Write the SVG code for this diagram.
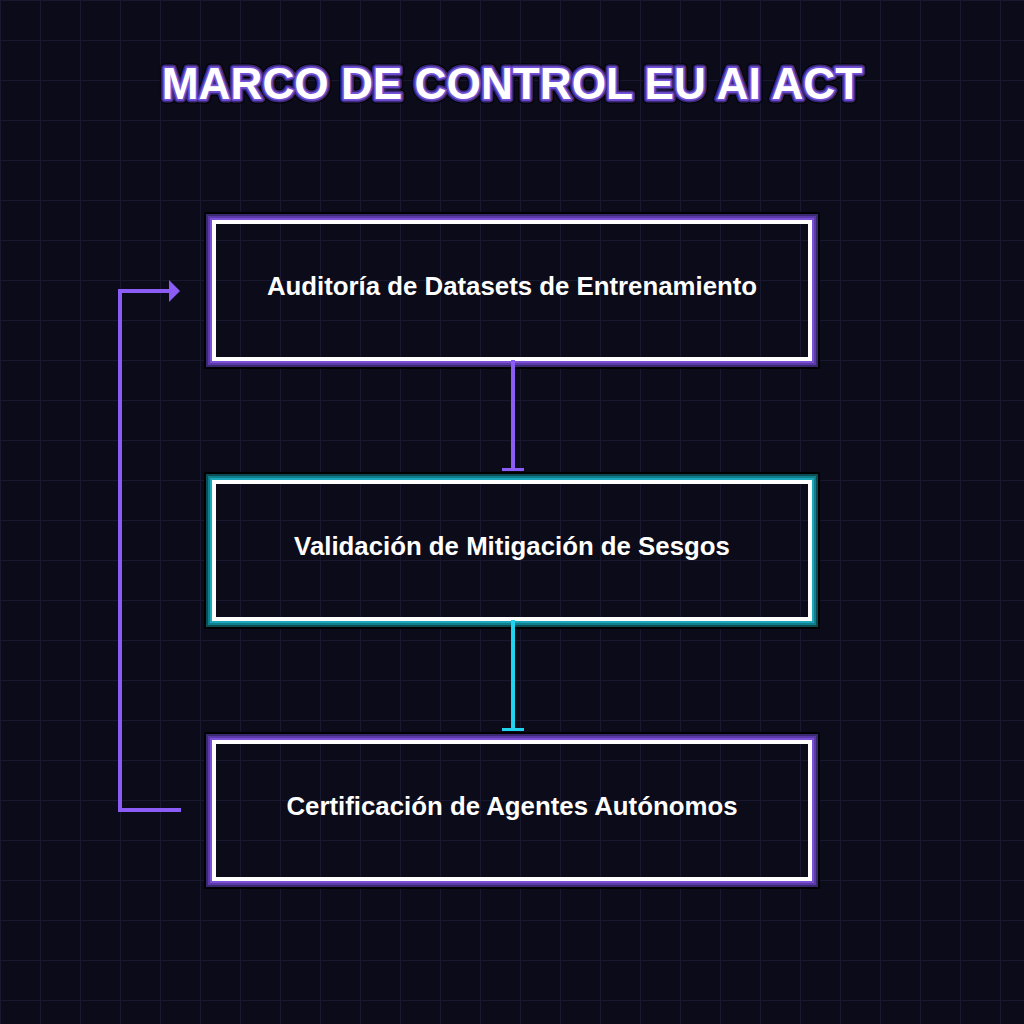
<svg xmlns="http://www.w3.org/2000/svg" width="1024" height="1024" viewBox="0 0 1024 1024">
  <defs>
    <pattern id="grid" width="40" height="40" patternUnits="userSpaceOnUse">
      <path d="M0.5 0 V40 M0 0.5 H40" fill="none" stroke="#181830" stroke-width="1"/>
    </pattern>
    <marker id="tee-p" viewBox="0 0 4 22" refX="2" refY="11" markerWidth="4" markerHeight="22" markerUnits="userSpaceOnUse" orient="auto">
      <rect x="0" y="0" width="3" height="22" fill="#8b5cf6"/>
    </marker>
    <marker id="tee-c" viewBox="0 0 4 22" refX="2" refY="11" markerWidth="4" markerHeight="22" markerUnits="userSpaceOnUse" orient="auto">
      <rect x="0" y="0" width="3" height="22" fill="#22d3ee"/>
    </marker>
    <marker id="arrow-p" viewBox="0 0 11 22" refX="2" refY="11" markerWidth="11" markerHeight="22" markerUnits="userSpaceOnUse" orient="auto">
      <path d="M0 0 L11 11 L0 22 Z" fill="#8b5cf6"/>
    </marker>
  </defs>
  <style>
    .title { font-family: "Liberation Sans", Arial, sans-serif; font-weight: bold; font-size: 44.2px; text-anchor: middle; stroke-linejoin: round; }
    .label { font-family: "Liberation Sans", Arial, sans-serif; font-weight: bold; font-size: 25.8px; fill: #ffffff; text-anchor: middle; }
    .frame { fill: none; stroke: #ffffff; stroke-width: 4; }
    .b0 { fill: none; stroke: #000000; stroke-width: 3; }
    .p1 { fill: none; stroke: #7c4fd6; stroke-width: 2; }
    .p2 { fill: none; stroke: #5a3aa6; stroke-width: 2; }
    .p3 { fill: none; stroke: #3a2872; stroke-width: 2; }
    .c1 { fill: none; stroke: #1aa7bb; stroke-width: 2; }
    .c2 { fill: none; stroke: #117e8c; stroke-width: 2; }
    .c3 { fill: none; stroke: #0a4d55; stroke-width: 2; }
    .conn { fill: none; stroke-width: 4; }
  </style>
  <rect width="1024" height="1024" fill="#0b0b19"/>
  <rect width="1024" height="1024" fill="url(#grid)"/>

  <g id="title">
    <text class="title" x="512" y="99" stroke="#000000" stroke-width="9" fill="#000000">MARCO DE CONTROL EU AI ACT</text>
    <text class="title" x="512" y="99" stroke="#3b2a7a" stroke-width="7" fill="#3b2a7a">MARCO DE CONTROL EU AI ACT</text>
    <text class="title" x="512" y="99" stroke="#7552d8" stroke-width="3.5" fill="#7552d8">MARCO DE CONTROL EU AI ACT</text>
    <text class="title" x="512" y="99" fill="#ffffff">MARCO DE CONTROL EU AI ACT</text>
  </g>

  <g id="node-auditoria">
    <rect class="b0" x="205.5" y="213.5" width="613" height="154"/>
    <rect class="p3" x="207" y="215" width="610" height="151"/>
    <rect class="p2" x="209" y="217" width="606" height="147"/>
    <rect class="p1" x="211" y="219" width="602" height="143"/>
    <rect class="frame" x="214" y="222" width="596" height="137"/>
    <text class="label" x="512" y="295">Auditoría de Datasets de Entrenamiento</text>
  </g>

  <g id="node-validacion">
    <rect class="b0" x="205.5" y="473.5" width="613" height="154"/>
    <rect class="c3" x="207" y="475" width="610" height="151"/>
    <rect class="c2" x="209" y="477" width="606" height="147"/>
    <rect class="c1" x="211" y="479" width="602" height="143"/>
    <rect class="frame" x="214" y="482" width="596" height="137"/>
    <text class="label" x="512" y="555">Validación de Mitigación de Sesgos</text>
  </g>

  <g id="node-certificacion">
    <rect class="b0" x="205.5" y="733.5" width="613" height="154"/>
    <rect class="p3" x="207" y="735" width="610" height="151"/>
    <rect class="p2" x="209" y="737" width="606" height="147"/>
    <rect class="p1" x="211" y="739" width="602" height="143"/>
    <rect class="frame" x="214" y="742" width="596" height="137"/>
    <text class="label" x="512" y="815">Certificación de Agentes Autónomos</text>
  </g>

  <g id="connectors">
    <line class="conn" x1="513" y1="360" x2="513" y2="470" stroke="#8b5cf6" marker-end="url(#tee-p)"/>
    <line class="conn" x1="513" y1="620" x2="513" y2="730" stroke="#22d3ee" marker-end="url(#tee-c)"/>
    <path class="conn" d="M181 810 H120 V291 H171" stroke="#8b5cf6" stroke-linejoin="miter" marker-end="url(#arrow-p)"/>
  </g>
</svg>
